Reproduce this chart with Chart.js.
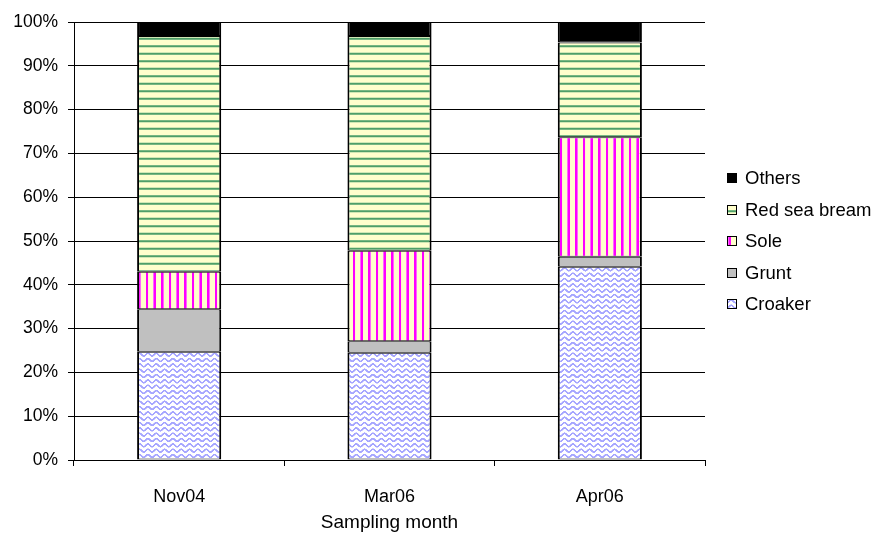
<!DOCTYPE html>
<html>
<head>
<meta charset="utf-8">
<script src="https://cdn.jsdelivr.net/npm/chart.js@4/dist/chart.umd.min.js"></script>
<style>
  html, body { margin: 0; padding: 0; background: #ffffff; }
  #wrap { width: 877px; height: 534px; }
</style>
</head>
<body>
<div id="wrap"><canvas id="c" width="877" height="534"></canvas></div>
<script>
// Species composition (%) per sampling month
const categories = ['Nov04', 'Mar06', 'Apr06'];
const croaker     = [24.7, 24.5, 44.1];
const grunt       = [9.7, 2.6, 2.3];
const sole        = [8.6, 20.7, 27.3];
const redSeaBream = [53.8, 49.0, 21.6];
const others      = [3.2, 3.2, 4.7];
const yTickValues = [0, 10, 20, 30, 40, 50, 60, 70, 80, 90, 100];

const FONT = '"Liberation Sans", Arial, Helvetica, sans-serif';

// Build a repeating fill drawn at a finer resolution, then scaled down
function makePattern(w, h, scale, draw) {
  const tile = document.createElement('canvas');
  tile.width = w; tile.height = h;
  const t = tile.getContext('2d');
  draw(t, w, h);
  const ctx = document.getElementById('c').getContext('2d');
  const p = ctx.createPattern(tile, 'repeat');
  p.setTransform(new DOMMatrix().scale(1 / scale));
  return p;
}

// light blue waves on white
const wavePattern = makePattern(25, 16, 3, (t, w, h) => {
  t.fillStyle = '#ffffff'; t.fillRect(0, 0, w, h);
  t.strokeStyle = '#a6a6ff'; t.lineWidth = 5;
  t.beginPath();
  for (let x = -3; x <= w + 3; x += 0.5) {
    const y = h / 2 + 4.2 * Math.sin((x / w) * Math.PI * 2);
    if (x === -3) t.moveTo(x, y); else t.lineTo(x, y);
  }
  t.stroke();
});

// magenta vertical stripes on pale yellow
const vStripePattern = makePattern(23, 3, 3, (t, w, h) => {
  t.fillStyle = '#ffffcc'; t.fillRect(0, 0, w, h);
  t.fillStyle = '#ff66ff'; t.fillRect(0, 0, 8, h);
  t.fillStyle = '#ff00ff'; t.fillRect(1, 0, 6, h);
});

// green horizontal stripes on pale yellow
const hStripePattern = makePattern(3, 15, 2, (t, w, h) => {
  t.fillStyle = '#ffffcc'; t.fillRect(0, 0, w, h);
  t.fillStyle = '#9fd09c'; t.fillRect(0, 0, w, 5);
  t.fillStyle = '#4f9f68'; t.fillRect(0, 1, w, 3);
});

function series(label, data, fill) {
  return {
    label, data,
    backgroundColor: fill,
    borderColor: '#000000',
    borderWidth: { top: 1, bottom: 1, left: 2, right: 2 },
    borderSkipped: false,
    categoryPercentage: 1.0,
    barPercentage: 0.4
  };
}

// Legend on the right, listed top-down from the top of the stack
const sideLegend = {
  id: 'sideLegend',
  afterDraw(chart) {
    const { ctx, chartArea } = chart;
    const items = chart.data.datasets.map(d => ({ label: d.label, fill: d.backgroundColor })).reverse();
    const gap = 31.5;
    const midY = (chartArea.top + chartArea.bottom) / 2;
    const boxX = chartArea.right + 22;
    ctx.save();
    ctx.font = '18.5px ' + FONT;
    ctx.textBaseline = 'middle';
    ctx.textAlign = 'left';
    items.forEach((it, k) => {
      const y = Math.round(midY + (k - (items.length - 1) / 2) * gap);
      ctx.fillStyle = it.fill;
      ctx.fillRect(boxX, y - 5, 10, 10);
      ctx.strokeStyle = '#000000';
      ctx.lineWidth = 1;
      ctx.strokeRect(boxX + 0.5, y - 4.5, 9, 9);
      ctx.fillStyle = '#000000';
      ctx.fillText(it.label, boxX + 18, y + 1);
    });
    ctx.restore();
  }
};

new Chart(document.getElementById('c'), {
  type: 'bar',
  data: {
    labels: categories,
    datasets: [
      series('Croaker', croaker, wavePattern),
      series('Grunt', grunt, '#c0c0c0'),
      series('Sole', sole, vStripePattern),
      series('Red sea bream', redSeaBream, hStripePattern),
      series('Others', others, '#000000')
    ]
  },
  options: {
    responsive: false,
    animation: false,
    devicePixelRatio: 1,
    layout: { padding: { top: 22, right: 172, bottom: 0, left: 0 } },
    plugins: {
      legend: { display: false },
      tooltip: { enabled: false }
    },
    scales: {
      x: {
        stacked: true,
        offset: true,
        afterFit(scale) { scale.height = 74; },
        grid: {
          offset: true,
          drawOnChartArea: false,
          drawTicks: true,
          tickLength: 6,
          color: '#000000',
          lineWidth: 1
        },
        border: { display: true, color: '#000000', width: 1 },
        ticks: {
          color: '#000000',
          font: { family: FONT, size: 18 },
          padding: 20,
          maxRotation: 0
        },
        title: {
          display: true,
          text: 'Sampling month',
          color: '#000000',
          font: { family: FONT, size: 19 },
          padding: { top: 0, bottom: 0 }
        }
      },
      y: {
        stacked: true,
        min: 0,
        max: 100,
        afterFit(scale) { scale.width = 74; },
        afterBuildTicks(scale) { scale.ticks = yTickValues.map(v => ({ value: v })); },
        grid: {
          drawOnChartArea: true,
          drawTicks: true,
          tickLength: 6,
          color: '#000000',
          lineWidth: 1
        },
        border: { display: true, color: '#000000', width: 1 },
        ticks: {
          color: '#000000',
          font: { family: FONT, size: 17.5 },
          padding: 10,
          callback: v => v + '%'
        }
      }
    }
  },
  plugins: [sideLegend]
});
</script>
</body>
</html>
